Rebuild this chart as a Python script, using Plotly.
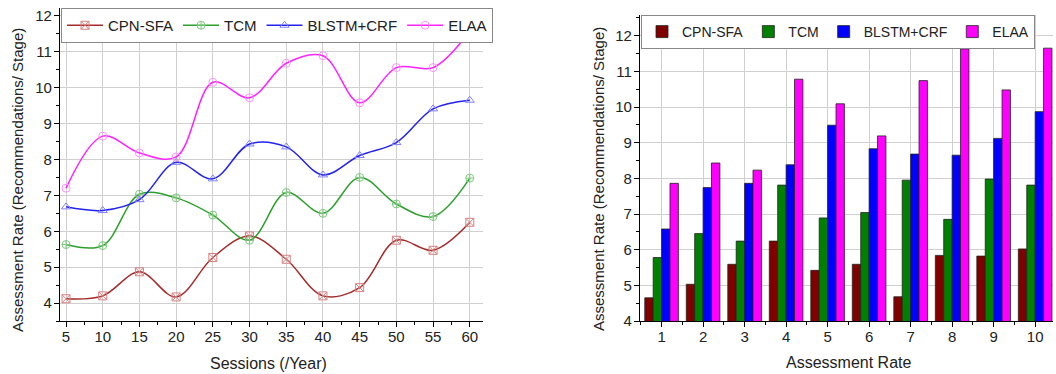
import plotly.graph_objects as go

# ---- data ----
sessions = [5, 10, 15, 20, 25, 30, 35, 40, 45, 50, 55, 60]
line_cpn = [4.12, 4.20, 4.87, 4.17, 5.27, 5.87, 5.22, 4.20, 4.43, 5.75, 5.47, 6.25]
line_tcm = [5.63, 5.60, 7.03, 6.93, 6.45, 5.75, 7.08, 6.50, 7.50, 6.76, 6.41, 7.48]
line_blstm = [6.68, 6.58, 6.88, 7.92, 7.46, 8.43, 8.35, 7.57, 8.11, 8.47, 9.41, 9.65]
line_elaa = [7.20, 8.65, 8.18, 8.07, 10.15, 9.72, 10.68, 10.89, 9.58, 10.56, 10.56, 11.58]

rates = [1, 2, 3, 4, 5, 6, 7, 8, 9, 10]
bar_cpn = [4.65, 5.03, 5.59, 6.24, 5.42, 5.59, 4.68, 5.84, 5.82, 6.02]
bar_tcm = [5.78, 6.45, 6.24, 7.81, 6.89, 7.04, 7.95, 6.85, 7.98, 7.81]
bar_blstm = [6.58, 7.74, 7.86, 8.38, 9.49, 8.83, 8.68, 8.65, 9.12, 9.87]
bar_elaa = [7.86, 8.43, 8.23, 10.78, 10.09, 9.19, 10.74, 11.63, 10.48, 11.65]

names = ["CPN-SFA", "TCM", "BLSTM+CRF", "ELAA"]
line_colors = ["#a52a2a", "#2ca02c", "#2222ee", "#ff22ff"]
marker_colors = ["#d98080", "#80c880", "#8080ff", "#ff90ff"]
symbols = ["square-x-open", "circle-cross-open", "triangle-up-open", "circle-open"]
bar_colors = ["#800000", "#008000", "#0000ff", "#ff00ff"]

W, H = 1056, 374
FONT = "Liberation Sans, Arial, sans-serif"

def px_x(p):
    return p / W

def px_y(p):
    return 1 - p / H

fig = go.Figure()

for name, ys, lc, mc, sym in zip(names, [line_cpn, line_tcm, line_blstm, line_elaa],
                                 line_colors, marker_colors, symbols):
    fig.add_trace(go.Scatter(
        x=sessions, y=ys, name=name, mode="lines+markers",
        line=dict(color=lc, width=1.5, shape="spline", smoothing=1.0),
        marker=dict(symbol=sym, size=8, color=mc, line=dict(width=1, color=mc)),
        xaxis="x", yaxis="y", legend="legend",
    ))

for name, ys, bc in zip(names, [bar_cpn, bar_tcm, bar_blstm, bar_elaa], bar_colors):
    fig.add_trace(go.Bar(
        x=rates, y=ys, name=name, marker=dict(color=bc, line=dict(color="#222222", width=0.8)),
        xaxis="x2", yaxis="y2", legend="legend2",
    ))

grid = "#d0d0d0"
axis_common = dict(
    showline=True, linecolor="black", linewidth=1.2, ticks="outside", ticklen=5,
    tickcolor="black", showgrid=True, gridcolor=grid, gridwidth=1, zeroline=False,
    tickfont=dict(family=FONT, size=15, color="#222222"), mirror=False, automargin=False,
)
minor_common = dict(ticks="outside", ticklen=3, tickcolor="black", showgrid=False)

fig.update_layout(
    width=W, height=H, margin=dict(l=0, r=0, t=0, b=0, autoexpand=False),
    paper_bgcolor="white", plot_bgcolor="white",
    font=dict(family=FONT, size=15, color="#222222"),
    barmode="group", bargap=0.19, bargroupgap=0.0,
    xaxis=dict(domain=[px_x(60), px_x(483)], range=[4.18, 61.8], tickvals=sessions,
               minor=dict(dtick=2.5, tick0=2.5, **minor_common), ticklabelstandoff=-3,
               anchor="y", **axis_common),
    yaxis=dict(domain=[px_y(321), px_y(8)], range=[3.5, 12.22], dtick=1, tick0=0,
               minor=dict(dtick=0.5, **minor_common), ticklabelstandoff=-1,
               anchor="x", **axis_common),
    xaxis2=dict(domain=[px_x(640), px_x(1053)], range=[0.48, 10.43], tickvals=rates,
                minor=dict(dtick=0.5, tick0=0.5, **minor_common), ticklabelstandoff=-3,
                anchor="y2", **axis_common),
    yaxis2=dict(domain=[px_y(321), px_y(15)], range=[4, 12.58], dtick=1, tick0=0,
                minor=dict(dtick=0.5, **minor_common), ticklabelstandoff=-1,
                anchor="x2", **axis_common),
    legend=dict(orientation="h", x=px_x(61), y=px_y(8), xanchor="left", yanchor="top",
                bgcolor="white", bordercolor="#888888", borderwidth=1,
                font=dict(family=FONT, size=15, color="#222222"),
                itemwidth=36, tracegroupgap=0),
    legend2=dict(orientation="h", x=px_x(641), y=px_y(15), xanchor="left", yanchor="top",
                 bgcolor="white", bordercolor="#888888", borderwidth=1,
                 font=dict(family=FONT, size=14, color="#222222"),
                 itemwidth=30, tracegroupgap=0),
    showlegend=True,
)

ytitle = "Assessment Rate (Recommendations/ Stage)"
ann = dict(xref="paper", yref="paper", showarrow=False, xanchor="center", yanchor="middle")
fig.add_annotation(text=ytitle, x=px_x(18), y=px_y(180), textangle=-90,
                   font=dict(family=FONT, size=15, color="#222222"), **ann)
fig.add_annotation(text=ytitle, x=px_x(598), y=px_y(179), textangle=-90,
                   font=dict(family=FONT, size=15, color="#222222"), **ann)
fig.add_annotation(text="Sessions (/Year)", x=px_x(268), y=px_y(363),
                   font=dict(family=FONT, size=16, color="#222222"), **ann)
fig.add_annotation(text="Assessment Rate", x=px_x(848), y=px_y(362),
                   font=dict(family=FONT, size=16, color="#222222"), **ann)

fig.write_html("out.html")
